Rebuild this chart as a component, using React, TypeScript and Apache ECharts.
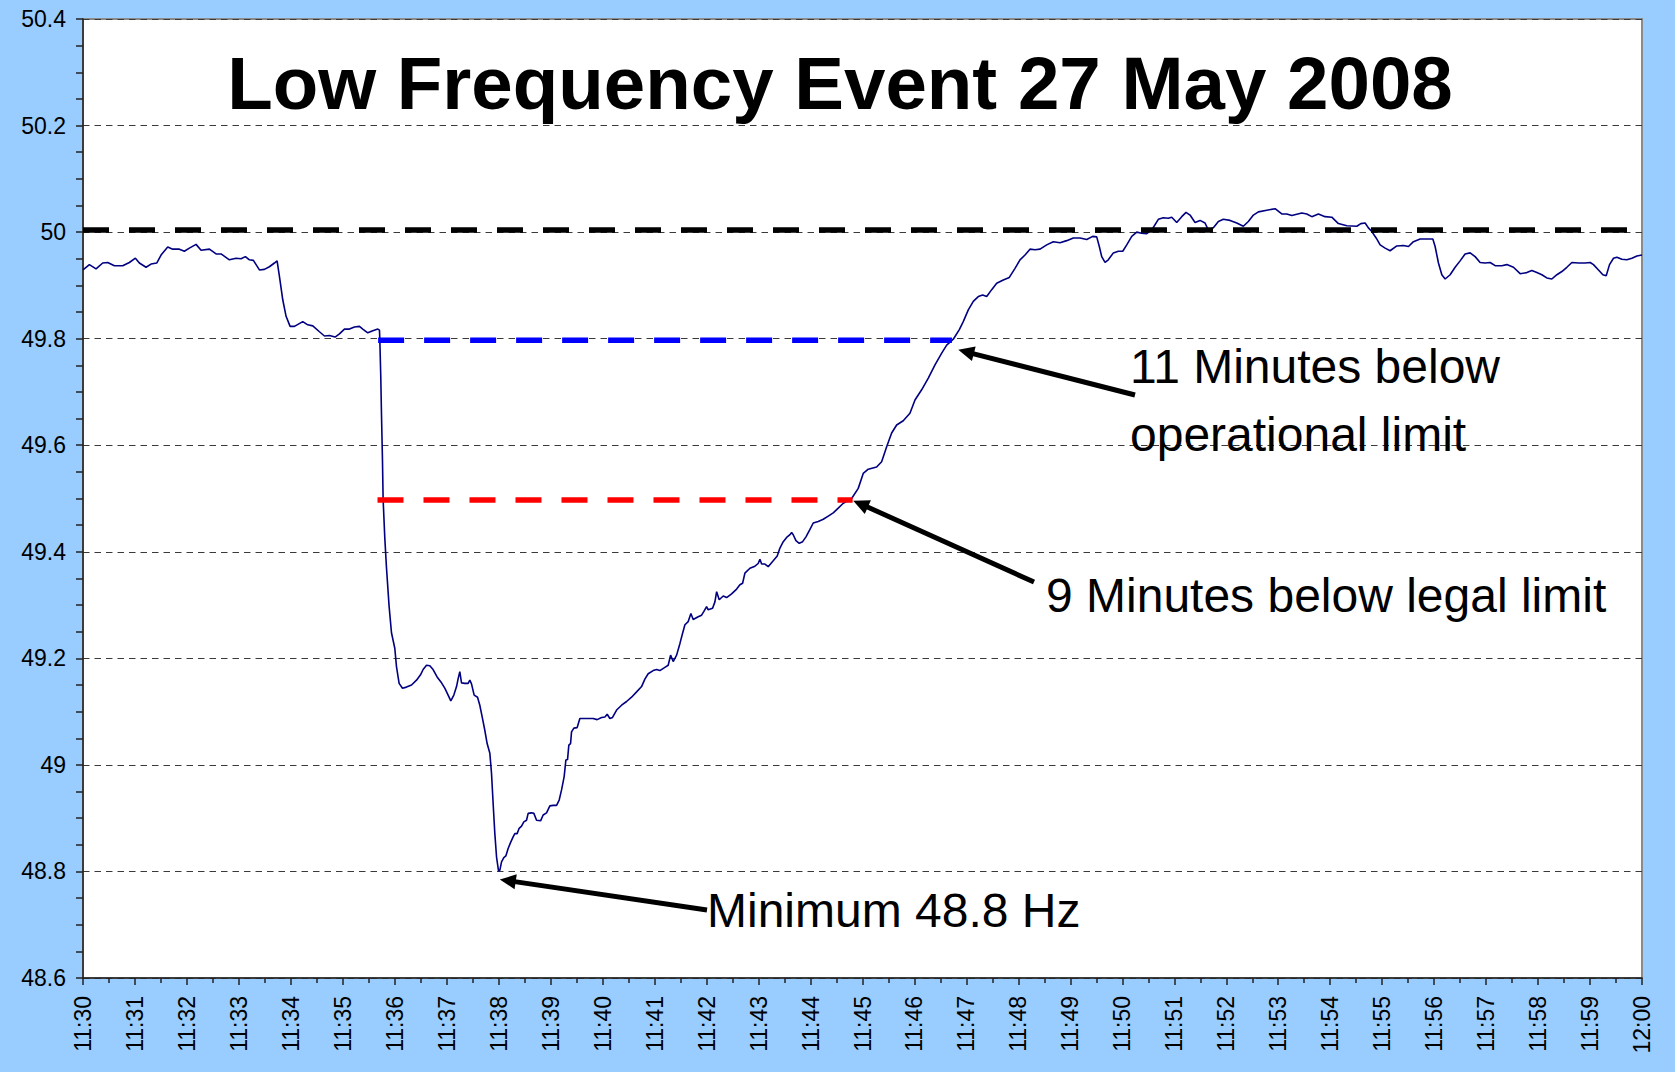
import { useEffect, useRef } from "react";
import * as echarts from "echarts";

// Minutes after 11:30 for each frequency reading
const timeMinutes = [
  0.000, 0.123, 0.251, 0.379, 0.475, 0.604, 0.764, 0.892, 1.008, 1.085,
  1.213, 1.309, 1.419, 1.502, 1.630, 1.727, 1.855, 1.951, 2.047, 2.176,
  2.272, 2.433, 2.561, 2.657, 2.817, 2.946, 3.042, 3.125, 3.202, 3.279,
  3.395, 3.491, 3.587, 3.684, 3.735, 3.780, 3.844, 3.908, 3.985, 4.069,
  4.229, 4.325, 4.422, 4.550, 4.646, 4.742, 4.851, 4.935, 5.031, 5.127,
  5.224, 5.320, 5.384, 5.480, 5.577, 5.673, 5.705, 5.711, 5.730, 5.744,
  5.763, 5.775, 5.807, 5.840, 5.890, 5.936, 5.967, 6.000, 6.033, 6.083,
  6.148, 6.225, 6.322, 6.418, 6.495, 6.545, 6.610, 6.674, 6.737, 6.814,
  6.899, 6.962, 7.026, 7.078, 7.136, 7.188, 7.219, 7.251, 7.284, 7.347,
  7.411, 7.444, 7.476, 7.527, 7.592, 7.636, 7.688, 7.732, 7.777, 7.829,
  7.861, 7.892, 7.925, 7.958, 7.996, 8.021, 8.054, 8.098, 8.137, 8.181,
  8.227, 8.277, 8.310, 8.354, 8.393, 8.439, 8.483, 8.535, 8.566, 8.631,
  8.676, 8.728, 8.805, 8.855, 8.920, 8.984, 9.047, 9.113, 9.163, 9.209,
  9.259, 9.292, 9.324, 9.349, 9.382, 9.401, 9.446, 9.509, 9.561, 9.690,
  9.817, 9.894, 9.979, 10.043, 10.087, 10.139, 10.190, 10.268, 10.364, 10.460,
  10.556, 10.653, 10.749, 10.812, 10.876, 10.972, 11.038, 11.101, 11.197, 11.261,
  11.307, 11.357, 11.423, 11.487, 11.538, 11.583, 11.646, 11.698, 11.742, 11.838,
  11.904, 11.948, 12.000, 12.031, 12.115, 12.160, 12.193, 12.243, 12.320, 12.385,
  12.481, 12.578, 12.641, 12.693, 12.737, 12.834, 12.930, 12.993, 13.026, 13.059,
  13.122, 13.186, 13.282, 13.359, 13.411, 13.475, 13.540, 13.604, 13.636, 13.667,
  13.719, 13.783, 13.848, 13.912, 13.989, 14.052, 14.148, 14.245, 14.341, 14.437,
  14.533, 14.630, 14.726, 14.791, 14.918, 15.014, 15.111, 15.272, 15.368, 15.465,
  15.561, 15.657, 15.784, 15.913, 16.010, 16.138, 16.266, 16.395, 16.524, 16.620,
  16.747, 16.863, 16.939, 17.036, 17.132, 17.228, 17.313, 17.390, 17.486, 17.582,
  17.709, 17.825, 17.935, 18.031, 18.127, 18.223, 18.320, 18.416, 18.545, 18.672,
  18.801, 18.930, 19.057, 19.186, 19.315, 19.430, 19.507, 19.557, 19.603, 19.667,
  19.730, 19.827, 19.923, 20.008, 20.085, 20.181, 20.277, 20.373, 20.470, 20.566,
  20.693, 20.789, 20.886, 20.951, 21.047, 21.143, 21.226, 21.303, 21.399, 21.496,
  21.592, 21.655, 21.752, 21.848, 21.944, 22.073, 22.202, 22.329, 22.425, 22.522,
  22.618, 22.780, 22.939, 23.068, 23.165, 23.261, 23.453, 23.550, 23.646, 23.773,
  23.902, 24.031, 24.158, 24.320, 24.512, 24.589, 24.672, 24.735, 24.801, 24.884,
  24.961, 25.057, 25.153, 25.282, 25.409, 25.506, 25.602, 25.731, 25.860, 25.975,
  26.019, 26.083, 26.148, 26.212, 26.308, 26.404, 26.500, 26.596, 26.693, 26.789,
  26.885, 26.981, 27.078, 27.174, 27.303, 27.399, 27.527, 27.655, 27.784, 27.880,
  27.977, 28.073, 28.169, 28.265, 28.362, 28.458, 28.554, 28.651, 28.778, 28.907,
  29.003, 29.066, 29.163, 29.247, 29.311, 29.375, 29.451, 29.517, 29.613, 29.709,
  29.806, 29.902, 30.000,
];

// Grid frequency (Hz) at each time above
const frequencyHz = [
  49.929, 49.939, 49.931, 49.942, 49.943, 49.937, 49.937, 49.943, 49.951, 49.942,
  49.934, 49.940, 49.942, 49.957, 49.972, 49.968, 49.968, 49.964, 49.970, 49.977,
  49.966, 49.968, 49.959, 49.959, 49.948, 49.951, 49.950, 49.954, 49.948, 49.947,
  49.929, 49.930, 49.935, 49.942, 49.946, 49.917, 49.873, 49.842, 49.823, 49.823,
  49.832, 49.826, 49.824, 49.813, 49.805, 49.806, 49.803, 49.809, 49.818, 49.818,
  49.822, 49.823, 49.818, 49.811, 49.815, 49.818, 49.816, 49.801, 49.729, 49.657,
  49.571, 49.499, 49.427, 49.370, 49.298, 49.248, 49.234, 49.219, 49.184, 49.153,
  49.144, 49.146, 49.150, 49.159, 49.169, 49.179, 49.187, 49.186, 49.179, 49.165,
  49.154, 49.144, 49.131, 49.120, 49.131, 49.147, 49.162, 49.175, 49.154, 49.153,
  49.153, 49.159, 49.152, 49.131, 49.127, 49.112, 49.087, 49.065, 49.040, 49.022,
  48.984, 48.928, 48.871, 48.827, 48.801, 48.802, 48.818, 48.826, 48.829, 48.843,
  48.854, 48.865, 48.871, 48.871, 48.881, 48.885, 48.893, 48.896, 48.909, 48.910,
  48.909, 48.896, 48.895, 48.906, 48.910, 48.923, 48.924, 48.924, 48.934, 48.953,
  48.978, 49.009, 49.010, 49.037, 49.040, 49.062, 49.069, 49.070, 49.087, 49.087,
  49.087, 49.085, 49.089, 49.090, 49.095, 49.087, 49.089, 49.103, 49.112, 49.119,
  49.127, 49.137, 49.147, 49.161, 49.171, 49.177, 49.179, 49.177, 49.183, 49.187,
  49.206, 49.194, 49.206, 49.228, 49.247, 49.263, 49.269, 49.284, 49.273, 49.278,
  49.281, 49.288, 49.297, 49.291, 49.294, 49.306, 49.325, 49.310, 49.317, 49.314,
  49.321, 49.330, 49.338, 49.341, 49.360, 49.369, 49.373, 49.378, 49.386, 49.377,
  49.377, 49.372, 49.383, 49.392, 49.407, 49.419, 49.427, 49.432, 49.436, 49.432,
  49.421, 49.416, 49.419, 49.428, 49.442, 49.454, 49.457, 49.461, 49.467, 49.473,
  49.482, 49.491, 49.496, 49.500, 49.519, 49.547, 49.555, 49.559, 49.569, 49.597,
  49.623, 49.638, 49.646, 49.660, 49.685, 49.704, 49.726, 49.751, 49.773, 49.788,
  49.799, 49.817, 49.832, 49.854, 49.870, 49.879, 49.882, 49.879, 49.892, 49.904,
  49.910, 49.915, 49.932, 49.948, 49.957, 49.968, 49.967, 49.968, 49.976, 49.982,
  49.980, 49.984, 49.989, 49.989, 49.986, 49.992, 49.991, 49.973, 49.954, 49.943,
  49.948, 49.961, 49.964, 49.964, 49.976, 49.992, 50.000, 49.998, 49.997, 50.004,
  50.024, 50.027, 50.026, 50.028, 50.018, 50.029, 50.037, 50.032, 50.018, 50.022,
  50.017, 50.004, 50.008, 50.020, 50.024, 50.022, 50.017, 50.011, 50.020, 50.032,
  50.038, 50.041, 50.044, 50.034, 50.034, 50.031, 50.036, 50.034, 50.029, 50.034,
  50.029, 50.028, 50.016, 50.012, 50.011, 50.016, 50.017, 50.008, 50.001, 49.989,
  49.976, 49.970, 49.965, 49.974, 49.975, 49.973, 49.982, 49.987, 49.987, 49.987,
  49.973, 49.942, 49.920, 49.912, 49.920, 49.934, 49.946, 49.959, 49.961, 49.954,
  49.943, 49.942, 49.943, 49.937, 49.937, 49.939, 49.934, 49.922, 49.924, 49.928,
  49.924, 49.920, 49.914, 49.912, 49.920, 49.926, 49.934, 49.943, 49.942, 49.942,
  49.943, 49.939, 49.929, 49.920, 49.918, 49.939, 49.951, 49.953, 49.949, 49.948,
  49.951, 49.955, 49.957,
];

const xTickLabels = [
  "11:30", "11:31", "11:32", "11:33", "11:34", "11:35", "11:36", "11:37", "11:38", "11:39",
  "11:40", "11:41", "11:42", "11:43", "11:44", "11:45", "11:46", "11:47", "11:48", "11:49",
  "11:50", "11:51", "11:52", "11:53", "11:54", "11:55", "11:56", "11:57", "11:58", "11:59",
  "12:00",
];

const yTickLabels = ["48.6", "48.8", "49", "49.2", "49.4", "49.6", "49.8", "50", "50.2", "50.4"];

// Reference lines: [start minute, end minute], level in Hz
const nominalLine = { span: [0, 30], level: 50.004 };
const operationalLine = { span: [5.679, 16.72], level: 49.797 };
const legalLine = { span: [5.667, 14.81], level: 49.497 };

const W = 1675;
const H = 1072;
const FONT = '"Liberation Sans", Arial, Helvetica, sans-serif';

export default function App() {
  const ref = useRef<HTMLDivElement>(null);

  useEffect(() => {
    const el = ref.current;
    if (!el) return;
    const chart = echarts.init(el, null, { renderer: "svg", width: W, height: H });

    const seriesData = timeMinutes.map((t, i) => [t, frequencyHz[i]]);
    const refSeries = (
      name: string,
      line: { span: number[]; level: number },
      color: string,
      width: number
    ) => ({
      name,
      type: "line",
      data: [
        [line.span[0], line.level],
        [line.span[1], line.level],
      ],
      symbol: "none",
      silent: true,
      z: 4,
      lineStyle: { color, width, type: [26, 20], cap: "butt" },
    });

    const axisColor = "#222";
    chart.setOption({
      animation: false,
      backgroundColor: "#99CCFF",
      grid: {
        left: 83,
        right: 33,
        top: 19,
        bottom: 94,
        show: true,
        backgroundColor: "#ffffff",
        borderColor: "#8a8a8a",
        borderWidth: 2,
      },
      xAxis: {
        type: "value",
        min: 0,
        max: 30,
        interval: 1,
        axisLine: { onZero: false, lineStyle: { color: axisColor, width: 1.5 } },
        axisTick: { length: 7, lineStyle: { color: axisColor, width: 1.5 } },
        minorTick: { show: true, splitNumber: 2, length: 5, lineStyle: { color: axisColor, width: 1.5 } },
        splitLine: { show: false },
        minorSplitLine: { show: false },
        axisLabel: {
          rotate: 90,
          margin: 18,
          fontSize: 23,
          fontFamily: FONT,
          color: "#000",
          formatter: (v: number) => xTickLabels[Math.round(v)] ?? "",
        },
      },
      yAxis: {
        type: "value",
        min: 48.6,
        max: 50.4,
        interval: 0.2,
        axisLine: { show: true, lineStyle: { color: axisColor, width: 1.5 } },
        axisTick: { show: true, length: 7, lineStyle: { color: axisColor, width: 1.5 } },
        minorTick: { show: true, splitNumber: 4, length: 7, lineStyle: { color: axisColor, width: 1.5 } },
        splitLine: { show: true, lineStyle: { color: "#3a3a3a", width: 1, type: [6.5, 5] } },
        minorSplitLine: { show: false },
        axisLabel: {
          margin: 17,
          fontSize: 23,
          fontFamily: FONT,
          color: "#000",
          formatter: (v: number) => yTickLabels[Math.round((v - 48.6) / 0.2)] ?? "",
        },
      },
      series: [
        {
          name: "Frequency",
          type: "line",
          data: seriesData,
          symbol: "none",
          z: 3,
          lineStyle: { color: "#000080", width: 1.6 },
        },
        refSeries("Nominal 50 Hz", nominalLine, "#000000", 5.5),
        refSeries("Operational limit", operationalLine, "#0000ff", 5.5),
        refSeries("Legal limit", legalLine, "#ff0000", 5.5),
      ],
    });

    const toPx = (p: number[]) => chart.convertToPixel({ gridIndex: 0 }, p) as number[];
    const arrow = (tail: number[], tip: number[]) => {
      const dx = tail[0] - tip[0];
      const dy = tail[1] - tip[1];
      const len = Math.hypot(dx, dy);
      const ux = dx / len;
      const uy = dy / len;
      const L = 16;
      const hw = 7.5;
      const bx = tip[0] + ux * L;
      const by = tip[1] + uy * L;
      return [
        {
          type: "line",
          z: 100,
          shape: { x1: tail[0], y1: tail[1], x2: bx - ux, y2: by - uy },
          style: { stroke: "#000", lineWidth: 5 },
        },
        {
          type: "polygon",
          z: 100,
          shape: {
            points: [
              [tip[0], tip[1]],
              [bx - uy * hw, by + ux * hw],
              [bx + uy * hw, by - ux * hw],
            ],
          },
          style: { fill: "#000" },
        },
      ];
    };

    const text = (str: string, x: number, y: number, font: string, align = "left") => ({
      type: "text",
      z: 100,
      x,
      y,
      style: { text: str, font, fill: "#000", textAlign: align, textVerticalAlign: "middle" },
    });

    chart.setOption({
      graphic: [
        text("Low Frequency Event 27 May 2008", 840, 83, `bold 74.5px ${FONT}`, "center"),
        text("11 Minutes below", 1130, 366, `48px ${FONT}`),
        text("operational limit", 1130, 434, `48px ${FONT}`),
        text("9 Minutes below legal limit", 1046, 595, `48px ${FONT}`),
        text("Minimum 48.8 Hz", 707, 910, `48px ${FONT}`),
        ...arrow([1135, 395], toPx([16.843, 49.779])),
        ...arrow([1034, 582], toPx([14.822, 49.496])),
        ...arrow([707, 910], toPx([8.021, 48.785])),
      ],
    });

    return () => {
      chart.dispose();
    };
  }, []);

  return (
    <div
      ref={ref}
      style={{ position: "absolute", left: 0, top: 0, width: W, height: H, background: "#99CCFF" }}
    />
  );
}
